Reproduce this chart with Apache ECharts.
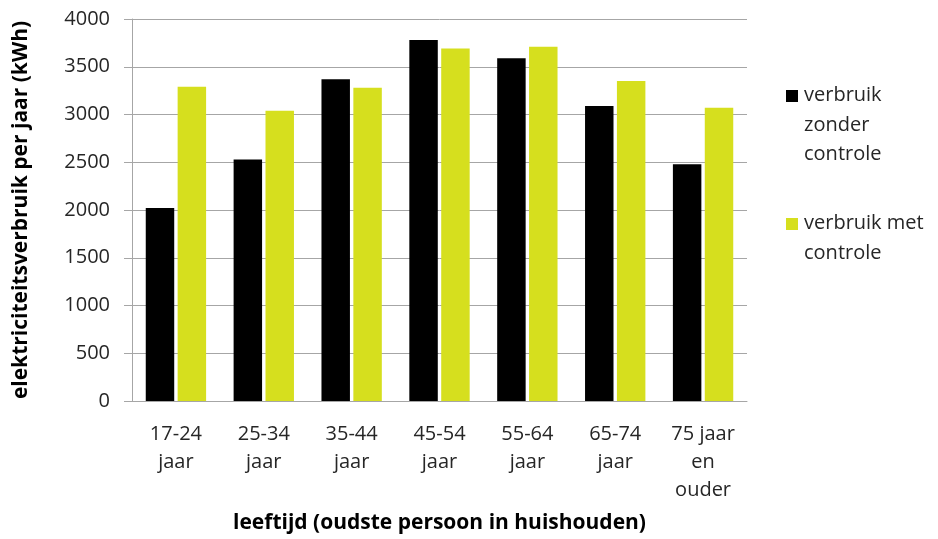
<!DOCTYPE html>
<html>
<head>
<meta charset="utf-8">
<script src="https://cdn.jsdelivr.net/npm/echarts@6/dist/echarts.min.js"></script>
<style>html,body{margin:0;padding:0;background:#fff}#c{width:938px;height:539px}</style>
</head>
<body>
<div id="c"></div>
<script>
var categories = ['17-24\njaar', '25-34\njaar', '35-44\njaar', '45-54\njaar', '55-64\njaar', '65-74\njaar', '75 jaar\nen\nouder'];
var seriesNames = ['verbruik zonder controle', 'verbruik met controle'];
var legendLabels = ['verbruik\nzonder\ncontrole', 'verbruik met\ncontrole'];
var zonderControle = [2020, 2530, 3370, 3780, 3590, 3090, 2480];
var metControle = [3290, 3040, 3280, 3690, 3710, 3350, 3070];
var yTicks = [0, 500, 1000, 1500, 2000, 2500, 3000, 3500, 4000];
var colors = ['#000000', '#d6df1e'];

var FONT = '"Open Sans", "Noto Sans", sans-serif';
var chart = echarts.init(document.getElementById('c'), null, {renderer: 'canvas'});

var legendGraphics = [];
var legendTop = [81, 209];
legendLabels.forEach(function (lab, i) {
  legendGraphics.push({
    type: 'rect', left: 786, top: legendTop[i] + 9,
    shape: {width: 12, height: 12}, style: {fill: colors[i]}
  });
  legendGraphics.push({
    type: 'text', left: 804, top: legendTop[i],
    style: {text: lab, font: '20px ' + FONT, fill: '#262626', lineHeight: 29.5}
  });
});

chart.setOption({
  animation: false,
  textStyle: {fontFamily: FONT},
  grid: {left: 132, right: 191, top: 19, bottom: 138, containLabel: false},
  xAxis: {
    type: 'category',
    data: categories,
    name: 'leeftijd (oudste persoon in huishouden)',
    nameLocation: 'middle',
    nameGap: 112,
    nameTextStyle: {fontSize: 21, fontWeight: 'bold', color: '#000', fontFamily: FONT},
    axisLine: {lineStyle: {color: '#a6a6a6', width: 1}},
    axisTick: {show: false},
    axisLabel: {fontSize: 20, color: '#262626', lineHeight: 28, margin: 19, interval: 0, fontFamily: FONT}
  },
  yAxis: {
    type: 'value',
    min: yTicks[0],
    max: yTicks[yTicks.length - 1],
    interval: yTicks[1] - yTicks[0],
    name: 'elektriciteitsverbruik per jaar (kWh)',
    nameLocation: 'middle',
    nameGap: 100,
    nameTextStyle: {fontSize: 21, fontWeight: 'bold', color: '#000', fontFamily: FONT},
    axisLine: {show: true, lineStyle: {color: '#a6a6a6'}},
    axisTick: {show: true, length: 8, lineStyle: {color: '#a6a6a6'}},
    axisLabel: {fontSize: 20, color: '#262626', margin: 22, fontFamily: FONT,
      formatter: function (v) { return String(v); }},
    splitLine: {lineStyle: {color: '#a6a6a6', width: 1}}
  },
  series: [
    {name: seriesNames[0], type: 'bar', data: zonderControle, barWidth: '32.4%', barGap: '12%',
     itemStyle: {color: colors[0]}},
    {name: seriesNames[1], type: 'bar', data: metControle, barWidth: '32.4%', barGap: '12%',
     itemStyle: {color: colors[1]}}
  ],
  graphic: legendGraphics
});
</script>
</body>
</html>
